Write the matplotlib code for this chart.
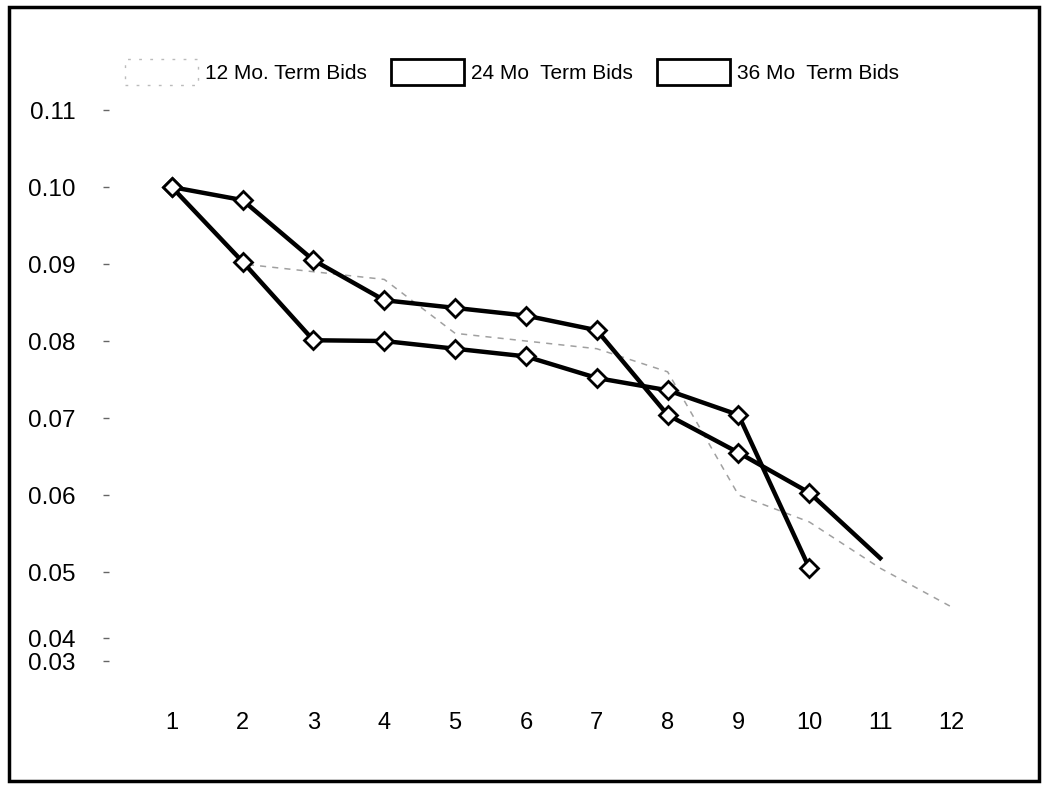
import matplotlib
matplotlib.use('Agg')
import matplotlib.pyplot as plt
from matplotlib.patches import Rectangle, Patch

plt.rcParams['font.family'] = ['Liberation Sans', 'DejaVu Sans']

# months on the x axis
months = list(range(1, 13))

# bid values
bids_12mo = [0.100, 0.090, 0.089, 0.088, 0.081, 0.080, 0.079, 0.076, 0.060, 0.0565, 0.0505, 0.0455]
bids_24mo = [0.100, 0.0983, 0.0905, 0.0853, 0.0843, 0.0833, 0.0814, 0.0704, 0.0655, 0.0603, 0.0518]
bids_36mo = [0.100, 0.0903, 0.0801, 0.0800, 0.0790, 0.0780, 0.0752, 0.0736, 0.0704, 0.0505]

series_labels = ["12 Mo. Term Bids", "24 Mo  Term Bids", "36 Mo  Term Bids"]

# y ticks as printed (the bottom two sit squeezed together on the original)
ytick_pos = [0.11, 0.10, 0.09, 0.08, 0.07, 0.06, 0.05, 0.0414, 0.0384]
ytick_labels = ["0.11", "0.10", "0.09", "0.08", "0.07", "0.06", "0.05", "0.04", "0.03"]

fig = plt.figure(figsize=(10.45, 7.89), dpi=100)
ax = fig.add_axes([103 / 1045, 1 - 690 / 789, 887 / 1045, 592 / 789])

ax.plot(months[:len(bids_12mo)], bids_12mo, color='#a0a0a0', lw=1.1,
        linestyle=(0, (4, 4)))
ax.plot(months[:len(bids_24mo)], bids_24mo, color='black', lw=3.2,
        marker='D', ms=9, mfc='white', mec='black', mew=2,
        markevery=list(range(len(bids_24mo) - 1)))
ax.plot(months[:len(bids_36mo)], bids_36mo, color='black', lw=3.2,
        marker='D', ms=9, mfc='white', mec='black', mew=2)

ax.set_xlim(0.03, 12.55)
ax.set_ylim(0.03468, 0.11156)
ax.set_xticks(months)
ax.set_yticks(ytick_pos)
ax.set_yticklabels(ytick_labels)
for s in ax.spines.values():
    s.set_visible(False)
ax.tick_params(axis='x', length=0, pad=16, labelsize=17)
ax.tick_params(axis='y', length=4, width=1, direction='in', color='#666666',
               pad=20, labelsize=17.5)

handles = [
    Patch(facecolor='white', edgecolor='#bbbbbb', linestyle=(0, (2, 6)), lw=1),
    Patch(facecolor='white', edgecolor='black', lw=2),
    Patch(facecolor='white', edgecolor='black', lw=2),
]
fig.legend(handles, series_labels, loc='center', bbox_to_anchor=(512 / 1045, 1 - 72 / 789),
           ncol=3, frameon=False, fontsize=15, handlelength=3.5, handleheight=1.6,
           handletextpad=0.3, columnspacing=1.2)

# outer border of the scanned figure
fig.patches.append(Rectangle((9 / 1045, 8 / 789), 1030 / 1045, 774 / 789,
                             transform=fig.transFigure, fill=False,
                             edgecolor='black', lw=2.5))

fig.savefig('out.png', dpi=100)
plt.close(fig)
